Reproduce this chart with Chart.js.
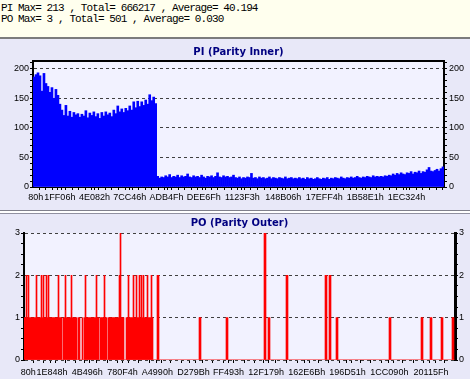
<!DOCTYPE html>
<html>
<head>
<meta charset="utf-8">
<script src="https://cdn.jsdelivr.net/npm/chart.js@4.4.1/dist/chart.umd.min.js"></script>
<style>
html,body{margin:0;padding:0;}
body{width:470px;height:379px;position:relative;overflow:hidden;background:#E8E8F8;}
#hdr{position:absolute;left:0;top:0;width:470px;height:37px;background:#FFFFEE;}
.hl{position:absolute;left:1px;font-family:"Liberation Mono",monospace;font-size:11px;letter-spacing:-0.9px;line-height:11px;white-space:pre;color:#000;}
.sep{position:absolute;left:0;width:470px;height:1px;}
canvas{position:absolute;left:0;}
#c1{top:39px;}
#c2{top:214px;}
</style>
</head>
<body>
<div id="hdr">
<div class="hl" style="top:3px">PI Max= 213 , Total= 666217 , Average= 40.194</div>
<div class="hl" style="top:14px">PO Max= 3 , Total= 501 , Average= 0.030</div>
</div>
<div class="sep" style="top:37px;height:2px;background:#7c7c7c"></div>
<div class="sep" style="top:210px;background:#80808c"></div>
<div class="sep" style="top:211px;height:2px;background:#ffffff"></div>
<div class="sep" style="top:213px;background:#9090a0"></div>
<canvas id="c1" width="470" height="171"></canvas>
<canvas id="c2" width="470" height="165"></canvas>
<script>
// ---------- data ----------
const piTickLabels = ['80h','1FF06h','4E082h','7CC46h','ADB4Fh','DEE6Fh','1123F3h','148B06h','17EFF4h','1B58E1h','1EC324h'];
const poTickLabels = ['80h','1E848h','4B496h','780F4h','A4990h','D279Bh','FF493h','12F179h','162E6Bh','196D51h','1CC090h','20115Fh'];
const addrMin = 0x80;
const addrMax = 2205000;
const piYLabels = [0, 50, 100, 150, 200];
const poYLabels = [0, 1, 2, 3];
const piYMax = 213;
const poYMax = 3;

const piValues = [
  186,190,193,188,162,192,175,170,160,168,
  150,165,155,140,130,121,138,120,128,118,
  126,122,124,118,123,120,129,117,125,121,
  127,119,124,116,126,120,127,122,125,119,
  130,124,137,127,132,126,133,129,137,130,
  144,134,145,136,144,138,147,140,156,146,
  152,141,
  18,15,17,16,19,17,21,16,18,17,
  20,16,19,17,18,22,17,16,19,17,
  18,16,20,17,15,18,17,19,16,18,
  24,17,16,19,17,18,16,17,20,
  16,15,17,14,16,15,17,16,23,15,
  16,14,17,15,16,14,15,17,14,16,
  15,14,16,15,14,17,14,15,16,14,
  15,14,16,
  14,15,13,16,14,15,13,14,16,14,
  13,15,14,16,13,15,14,16,15,14,
  17,15,14,16,15,17,15,16,18,16,
  15,17,16,18,17,16,19,17,18,17,
  18,17,19,18,20,
  19,22,20,23,21,24,22,21,24,23,
  26,22,25,24,27,23,26,25,29,33,27,26,28,30,27,31,34
];

const poValues = [
  1,1,2,1,2,1,1,1,1,1, 1,1,2,1,1,1,1,2,1,2,
  1,1,2,1,2,1,1,1,1,1, 1,1,1,1,2,1,1,1,0,1,
  1,2,1,1,1,1,1,2,1,1, 1,1,1,0,1,1,0,0,1,0,
  1,2,1,1,1,1,1,1,1,1, 1,1,2,1,1,0,1,1,1,1,
  2,1,1,0,1,1,1,1,1,1, 1,1,1,1,1,2,3,1,1,1,
  0,0,1,1,2,1,1,1,1,2, 1,1,2,1,1,2,1,2,1,2,
  1,1,1,2,1,1,1,2,1,0, 0,0,0,2,2,0,0,0,0,0,
  0,0,0,0,0,0,0,0,0,0, 0,0,0,0,0,0,0,0,0,0,
  0,0,0,0,0,0,0,0,0,0, 0,0,0,0,0,1,1,0,0,0,
  0,0,0,0,0,0,0,0,0,0, 0,0,0,0,0,0,0,0,0,0,
  0,0,1,1,0,0,0,0,0,0, 0,0,0,0,0,0,0,0,0,0,
  0,0,0,0,0,0,0,0,0,0, 0,0,0,0,0,0,0,0,0,0,
  3,3,0,0,1,1,0,0,0,0, 0,0,0,0,0,0,0,0,0,0,
  0,0,2,2,0,0,0,0,0,0, 0,0,0,0,0,0,0,0,0,0,
  0,0,0,0,0,0,0,0,0,0, 0,0,0,0,0,0,0,0,0,0,
  0,2,2,0,0,2,2,0,0,0, 0,0,1,1,0,0,0,0,0,0,
  0,0,0,0,0,0,0,0,0,0, 0,0,0,0,0,0,0,0,0,0,
  0,0,0,0,0,0,0,0,0,0, 0,0,0,0,0,0,0,0,0,0,
  0,0,0,0,0,1,1,0,0,0, 0,0,0,0,0,0,0,0,0,0,
  0,0,0,0,0,0,0,0,0,0, 0,0,0,0,0,0,0,1,1,0,
  0,0,0,0,0,0,1,1,0,0, 0,0,0,0,0,0,0,1,1,0,
  0,0,0,0,0,0,0,0,1,1,0
];

// ---------- helpers ----------
const FONT = 'Liberation Sans';
const plotBg = {
  id: 'plotBg',
  beforeDraw(chart, args, opts) {
    const a = chart.chartArea, ctx = chart.ctx;
    ctx.save();
    ctx.fillStyle = opts.color;
    ctx.fillRect(a.left, a.top, a.right - a.left, a.bottom - a.top);
    ctx.restore();
  }
};
const fixW = w => s => { s.width = w; };
const fixH = h => s => { s.height = h; };

function addrAxis(labels, minorStep, height, borderOn, pad) {
  const majors = labels.map(l => parseInt(l, 16));
  return {
    type: 'linear', position: 'bottom', min: addrMin, max: addrMax,
    afterBuildTicks: s => {
      const vals = majors.slice();
      for (let v = addrMin + minorStep; v < addrMax; v += minorStep) vals.push(v);
      vals.sort((a, b) => a - b);
      s.ticks = vals.map(v => ({ value: v }));
    },
    afterFit: fixH(height),
    ticks: {
      autoSkip: false, maxRotation: 0, minRotation: 0, padding: pad, color: '#000',
      font: { family: FONT, size: 9 },
      callback: v => { const k = majors.indexOf(v); return k >= 0 ? labels[k] : ''; }
    },
    grid: { drawOnChartArea: false, drawTicks: true, tickLength: 3, color: '#000', tickColor: '#000' },
    border: { display: borderOn, color: '#000', width: 1 }
  };
}

function valAxis(pos, max, majors, minorStep, width, gridOn, borderW, pad) {
  return {
    type: 'linear', position: pos, min: 0, max: max,
    afterBuildTicks: s => {
      const vals = [];
      for (let k = 0; k * minorStep <= max + 1e-9; k++) vals.push(+(k * minorStep).toFixed(4));
      s.ticks = vals.map(v => ({ value: v }));
    },
    afterFit: fixW(width),
    ticks: {
      autoSkip: false, padding: pad, color: '#000', font: { family: FONT, size: 9 },
      callback: v => majors.includes(v) ? String(v) : ''
    },
    grid: {
      drawOnChartArea: gridOn, drawTicks: true, tickLength: 3, tickColor: '#000', lineWidth: 1,
      color: c => (gridOn && c.tick && majors.includes(c.tick.value)) ? '#404040' : 'rgba(0,0,0,0)'
    },
    border: { display: true, color: '#000', width: borderW, dash: [3, 3] }
  };
}

function makeChart(id, o) {
  return new Chart(document.getElementById(id), {
    type: 'bar',
    data: {
      labels: o.values.map((_, i) => i),
      datasets: [{
        data: o.values, backgroundColor: o.color, borderWidth: 0,
        barPercentage: 1, categoryPercentage: 1, xAxisID: 'x', yAxisID: 'y'
      }]
    },
    options: {
      responsive: false, animation: false, devicePixelRatio: 1,
      layout: { padding: 0 },
      events: [],
      plugins: {
        legend: { display: false }, tooltip: { enabled: false },
        title: {
          display: true, text: o.title, color: '#000080', fullSize: false,
          font: { family: 'DejaVu Sans', size: 10, weight: 'bold', lineHeight: 1.2 },
          padding: o.titlePad
        },
        plotBg: { color: '#F2F2FF' }
      },
      scales: o.scales
    },
    plugins: [plotBg]
  });
}

// ---------- PI chart ----------
const piScales = {
  x: { type: 'category', display: false, offset: true, grid: { display: false } },
  xa: addrAxis(piTickLabels, 36000, 23, true, 2),
  y: valAxis('left', piYMax, piYLabels, 10, 33, true, 2, 1),
  y2: valAxis('right', piYMax, piYLabels, 10, 26, false, 2, 2)
};
piScales.xt = {
  type: 'linear', position: 'top', min: 0, max: 1, afterFit: fixH(0),
  ticks: { display: false }, grid: { display: false, drawTicks: false },
  border: { display: true, color: '#000', width: 2 }
};
makeChart('c1', {
  values: piValues, color: '#0000FF', title: 'PI (Parity Inner)',
  titlePad: { top: 7, bottom: 3 }, scales: piScales
});

// ---------- PO chart ----------
const poScales = {
  x: { type: 'category', display: false, offset: true, grid: { display: false } },
  xa: addrAxis(poTickLabels, 55000, 19, false, 4),
  y: valAxis('left', poYMax, poYLabels, 0.25, 24, true, 2, 1),
  y2: valAxis('right', poYMax, poYLabels, 0.25, 15, false, 3, 1)
};
makeChart('c2', {
  values: poValues, color: '#FF0000', title: 'PO (Parity Outer)',
  titlePad: { top: 3.5, bottom: 3.5 }, scales: poScales
});
</script>
</body>
</html>
